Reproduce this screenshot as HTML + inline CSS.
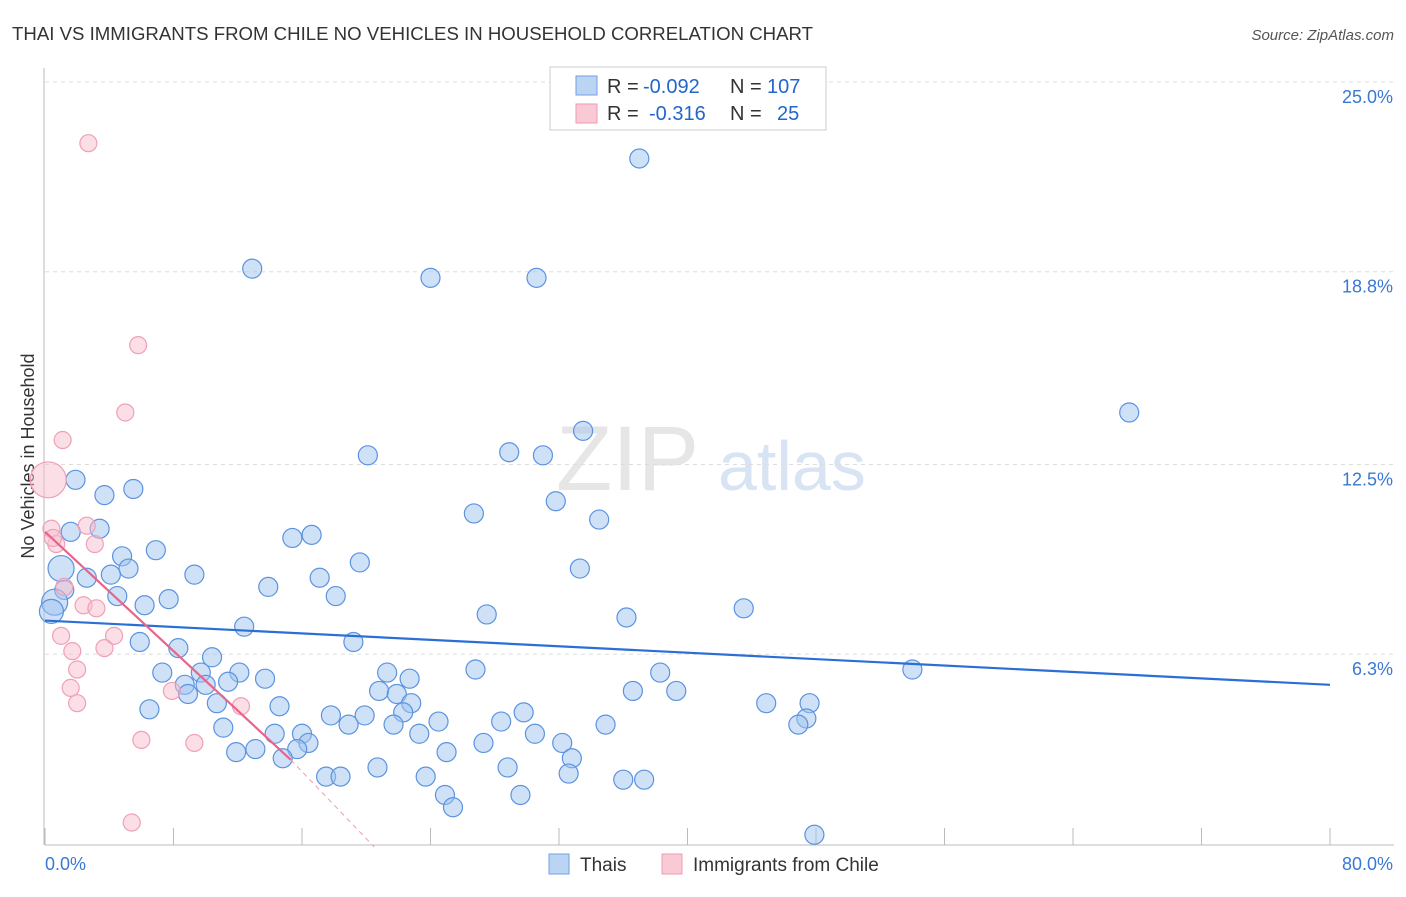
<!DOCTYPE html>
<html><head><meta charset="utf-8"><style>
body{margin:0;background:#fff;font-family:"Liberation Sans",sans-serif;}
svg text{font-family:"Liberation Sans",sans-serif;}
</style></head><body>
<svg id="c" width="1406" height="892" xmlns="http://www.w3.org/2000/svg">
<text x="12" y="40" font-size="18" fill="#333" textLength="801" lengthAdjust="spacingAndGlyphs">THAI VS IMMIGRANTS FROM CHILE NO VEHICLES IN HOUSEHOLD CORRELATION CHART</text>
<text x="1394" y="40" font-size="15" fill="#555" text-anchor="end" font-style="italic">Source: ZipAtlas.com</text>
<text x="556" y="490" font-size="92" fill="#e6e6e6" font-family="Liberation Serif">ZIP</text>
<text x="718" y="490" font-size="70" fill="#d8e4f4">atlas</text>
<text transform="translate(34,456) rotate(-90)" font-size="18" fill="#333" text-anchor="middle">No Vehicles in Household</text>
<g id="grid"></g><g id="pts"></g><g id="lines"></g>
<g>
<rect x="550" y="67" width="276" height="63" fill="#fff" stroke="#ccc"/>
<rect x="576" y="76" width="21" height="19" fill="#bcd4f3" stroke="#6f9fe0"/>
<text x="607" y="93" font-size="20" fill="#333">R =</text>
<text x="643" y="93" font-size="20" fill="#2266cc">-0.092</text>
<text x="730" y="93" font-size="20" fill="#333">N =</text>
<text x="767" y="93" font-size="20" fill="#2266cc">107</text>
<rect x="576" y="104" width="21" height="19" fill="#f9c9d6" stroke="#ef9ab1"/>
<text x="607" y="120" font-size="20" fill="#333">R =</text>
<text x="649" y="120" font-size="20" fill="#2266cc">-0.316</text>
<text x="730" y="120" font-size="20" fill="#333">N =</text>
<text x="777" y="120" font-size="20" fill="#2266cc">25</text>
</g>
<g>
<rect x="549" y="854" width="20" height="20" fill="#bcd4f3" stroke="#6f9fe0"/>
<text x="580" y="871" font-size="19" fill="#333">Thais</text>
<rect x="662" y="854" width="20" height="20" fill="#f9c9d6" stroke="#ef9ab1"/>
<text x="693" y="871" font-size="19" fill="#333">Immigrants from Chile</text>
</g>
</svg>
<script>
const yTicks=[25.0,18.8,12.5,6.3];
const yTickLabels=["25.0%","18.8%","12.5%","6.3%"];
const xTickLabels=["0.0%","80.0%"];
const thaiX=[37,12.9,24,30.6,67.5,33.5,20.1,28.9,31,1.9,5.5,3.7,31.8,26.7,34.5,1.6,3.4,15.4,16.6,6.9,4.8,19.6,5.2,1,4.1,2.6,33.3,9.3,17.1,13.9,4.5,1.2,7.7,18.1,6.2,0.6,0.4,43.5,27.5,36.2,12.4,5.9,19.2,8.3,10.4,7.3,9.7,12.1,13.7,26.8,38.3,54,21.3,22.7,8.7,11.4,10,8.9,20.8,21.9,36.6,39.3,6.5,10.7,14.6,22.8,44.9,47.6,17.8,19.9,29.8,22.3,11.1,16,18.9,21.7,24.5,28.4,14.3,30.5,47.4,46.9,34.9,23.3,11.9,13.1,16.4,15.7,14.8,27.3,32.2,25,32.8,20.7,28.8,17.5,18.4,23.7,32.6,36,37.3,24.9,25.4,29.6,47.9];
const thaiY=[22.5,18.9,18.6,18.6,14.2,13.6,12.8,12.9,12.8,12.0,11.7,11.5,11.3,10.9,10.7,10.3,10.4,10.1,10.2,9.7,9.5,9.3,9.1,9.1,8.9,8.8,9.1,8.9,8.8,8.5,8.2,8.4,8.1,8.2,7.9,8.0,7.7,7.8,7.6,7.5,7.2,6.7,6.7,6.5,6.2,5.7,5.7,5.7,5.5,5.8,5.7,5.8,5.7,5.5,5.3,5.4,5.3,5.0,5.1,5.0,5.1,5.1,4.5,4.7,4.6,4.7,4.7,4.7,4.3,4.3,4.4,4.4,3.9,3.7,4.0,4.0,4.1,4.1,3.7,3.7,4.2,4.0,4.0,3.7,3.1,3.2,3.4,3.2,2.9,3.4,3.4,3.1,2.9,2.6,2.6,2.3,2.3,2.3,2.4,2.2,2.2,1.7,1.3,1.7,0.4];
const chileX=[2.7,5.8,5.0,1.1,0.2,0.4,2.6,0.7,3.1,1.2,2.4,3.2,4.3,1.0,1.7,3.7,2.0,1.6,7.9,2.0,12.2,6.0,9.3,5.4,0.5];
const chileY=[23.0,16.4,14.2,13.3,12.0,10.4,10.5,9.9,9.9,8.5,7.9,7.8,6.9,6.9,6.4,6.5,5.8,5.2,5.1,4.7,4.6,3.5,3.4,0.8,10.1];
const thaiTrend=[7.4,5.3], chileTrend=[10.3,2.85,0];
const X=v=>45+v/80*1285, Y=v=>847-v/25*765;
const NS='http://www.w3.org/2000/svg';
function mk(t,a,p){const e=document.createElementNS(NS,t);for(const k in a)e.setAttribute(k,a[k]);p.appendChild(e);return e;}
const grid=document.getElementById('grid');
yTicks.forEach((v,i)=>{
 const l=mk('line',{x1:45,x2:1394,y1:Y(v),y2:Y(v),stroke:'#ddd','stroke-dasharray':'4,4'},grid);
 
 
 const t=mk('text',{x:1393,y:Y(v)+21,'font-size':18,fill:'#3a78d4','text-anchor':'end'},grid);t.textContent=yTickLabels[i];
 
 
});
const ax=mk('line',{x1:45,x2:1394,y1:845,y2:845,stroke:'#bbb'},grid);


const ay=mk('line',{x1:44,x2:44,y1:68,y2:845,stroke:'#bbb'},grid);


for(let i=0;i<=10;i++){const t=mk('line',{x1:X(i*8),x2:X(i*8),y1:828,y2:845,stroke:'#bbb'},grid);
 
 }
[[0,'start',45],[1,'end',1393]].forEach(([i,a,x])=>{const t=mk('text',{x:x,y:870,'font-size':18,fill:'#3a78d4','text-anchor':a},grid);t.textContent=xTickLabels[i];
 
 });
const pts=document.getElementById('pts');
thaiX.forEach((x,i)=>{const r=(i==23||i==35)?13:(i==36?12:9.5);
 const c=mk('circle',{cx:X(x),cy:Y(thaiY[i]),r:r,fill:'rgba(160,195,240,0.5)',stroke:'#5b93e0','stroke-width':1.2},pts);
 
 });
chileX.forEach((x,i)=>{const r=i==4?18:8.5;
 const c=mk('circle',{cx:X(x),cy:Y(chileY[i]),r:r,fill:'rgba(248,190,205,0.5)',stroke:'#f0a0b6','stroke-width':1.2},pts);
 
 });
const lines=document.getElementById('lines');
const tl=mk('line',{x1:X(0),y1:Y(thaiTrend[0]),x2:X(80),y2:Y(thaiTrend[1]),stroke:'#2a6fd6','stroke-width':2.2},lines);


const c1=mk('line',{x1:X(0),y1:Y(chileTrend[0]),x2:X(15.3),y2:Y(chileTrend[1]),stroke:'#e8648c','stroke-width':2.2},lines);


const c2=mk('line',{x1:X(15.3),y1:Y(chileTrend[1]),x2:X(20.5),y2:Y(chileTrend[2]),stroke:'#e8a0b4','stroke-width':1,'stroke-dasharray':'5,4'},lines);


</script>
</body></html>
